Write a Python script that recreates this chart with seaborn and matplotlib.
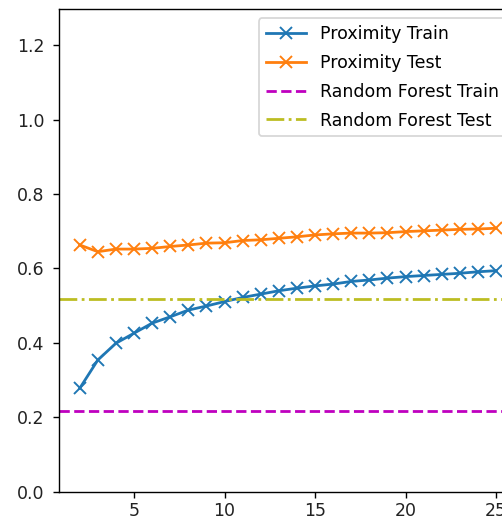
import matplotlib
matplotlib.use("Agg")
import matplotlib.pyplot as plt
import seaborn as sns
import pandas as pd

n_neighbors = list(range(2, 26))
proximity_train = [0.278, 0.354, 0.399, 0.426, 0.453, 0.470, 0.488, 0.499, 0.511,
                   0.522, 0.531, 0.540, 0.547, 0.553, 0.558, 0.565, 0.569, 0.574,
                   0.578, 0.581, 0.584, 0.587, 0.591, 0.594]
proximity_test = [0.663, 0.645, 0.652, 0.652, 0.654, 0.659, 0.663, 0.668, 0.669,
                  0.675, 0.677, 0.681, 0.685, 0.690, 0.693, 0.695, 0.695, 0.696,
                  0.699, 0.701, 0.703, 0.705, 0.706, 0.708]
rf_train = 0.218
rf_test = 0.518

y_ticks = [0.0, 0.2, 0.4, 0.6, 0.8, 1.0, 1.2]
x_ticks = [5, 10, 15, 20, 25]

df = pd.DataFrame({"k": n_neighbors, "train": proximity_train, "test": proximity_test})

W, H, DPI = 502, 521, 125
fig = plt.figure(figsize=(W / DPI, H / DPI), dpi=DPI)
left_px, right_px, top_px, bottom_px = 59.3, 560.0, 8.7, 491.7
ax = fig.add_axes([left_px / W, (H - bottom_px) / H,
                   (right_px - left_px) / W, (bottom_px - top_px) / H])

c_blue, c_orange = "#1f77b4", "#ff7f0e"
sns.lineplot(data=df, x="k", y="train", marker="x", color=c_blue,
             markeredgecolor=c_blue, markeredgewidth=1.1, markersize=7,
             linewidth=1.6, label="Proximity Train", ax=ax)
sns.lineplot(data=df, x="k", y="test", marker="x", color=c_orange,
             markeredgecolor=c_orange, markeredgewidth=1.1, markersize=7,
             linewidth=1.6, label="Proximity Test", ax=ax)
ax.axhline(rf_train, color="m", linestyle="--", linewidth=1.6, label="Random Forest Train")
ax.axhline(rf_test, color="#bcbd22", linestyle="-.", linewidth=1.6, label="Random Forest Test")

px_per_unit = 18.1
x_left = 0.87
ax.set_xlim(x_left, x_left + (right_px - left_px) / px_per_unit)
ax.set_ylim(0, 1.298)
ax.set_xticks(x_ticks)
ax.set_yticks(y_ticks)
ax.set_xlabel("")
ax.set_ylabel("")
ax.tick_params(axis="y", pad=5)
ax.tick_params(axis="x", pad=2.5)
for t in ax.get_xticklabels() + ax.get_yticklabels():
    t.set_color("#222222")

ax.legend(loc="upper left", bbox_to_anchor=(259 / W, 1 - 18.3 / H),
          bbox_transform=fig.transFigure, borderaxespad=0,
          handlelength=2.3, borderpad=0.4, labelspacing=0.62)

fig.savefig("out.png", dpi=DPI)
